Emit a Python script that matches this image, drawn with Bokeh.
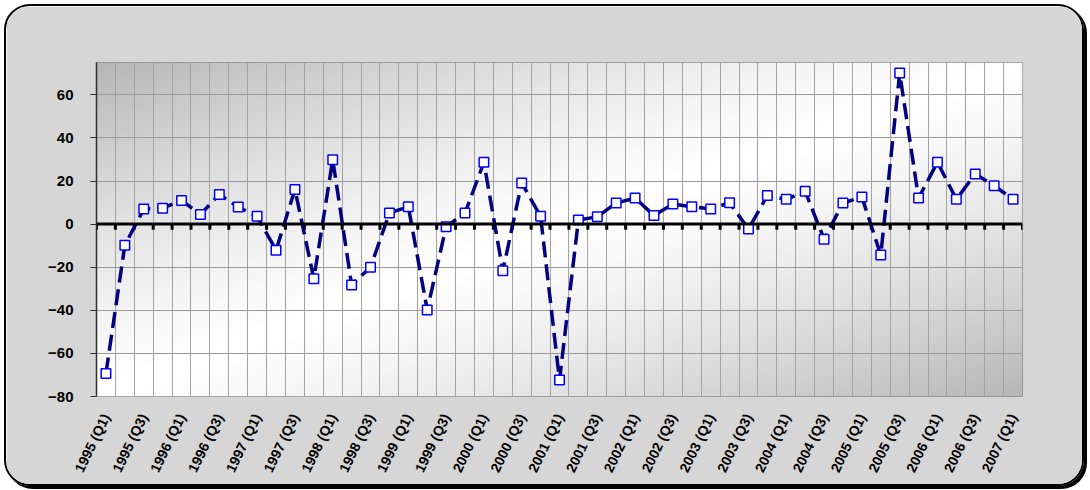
import numpy as np
from bokeh.plotting import figure
from bokeh.models import FixedTicker, Span, ColumnDataSource
from bokeh.embed import file_html
from bokeh.resources import INLINE

# ---- data ----
values = [-69.3, -9.8, 7.0, 7.4, 11.0, 4.5, 13.8, 7.9, 3.6, -12.1,
          16.1, -25.3, 29.9, -28.2, -20.0, 5.1, 8.1, -39.8, -1.2, 5.1,
          28.7, -21.7, 19.1, 3.6, -72.4, 1.9, 3.4, 9.8, 12.1, 4.0,
          9.3, 8.1, 7.0, 9.9, -2.3, 13.3, 11.5, 15.2, -7.0, 9.8,
          12.6, -14.3, 70.1, 12.1, 28.7, 11.5, 23.3, 17.8, 11.5]
tick_labels = ["1995 (Q1)", "1995 (Q3)", "1996 (Q1)", "1996 (Q3)", "1997 (Q1)",
               "1997 (Q3)", "1998 (Q1)", "1998 (Q3)", "1999 (Q1)", "1999 (Q3)",
               "2000 (Q1)", "2000 (Q3)", "2001 (Q1)", "2001 (Q3)", "2002 (Q1)",
               "2002 (Q3)", "2003 (Q1)", "2003 (Q3)", "2004 (Q1)", "2004 (Q3)",
               "2005 (Q1)", "2005 (Q3)", "2006 (Q1)", "2006 (Q3)", "2007 (Q1)"]
y_ticks = [-80, -60, -40, -20, 0, 20, 40, 60]

n = len(values)
xs = list(range(n))
src = ColumnDataSource(dict(x=xs, y=values))

Y0, Y1 = -80, 75

p = figure(width=1080, height=482, output_backend="svg", toolbar_location=None,
           x_range=(-0.5, n - 0.5), y_range=(Y0, Y1),
           min_border_left=90, min_border_right=64, min_border_top=56, min_border_bottom=92)
p.styles = {"border": "2px solid black", "border-radius": "26px", "overflow": "hidden",
            "box-shadow": "3px 3px 0 black", "margin": "4px 0 0 4px"}
p.border_fill_color = "#d6d6d6"
p.background_fill_color = "#ffffff"
p.outline_line_color = "#8a8a8a"

# plot area gradient (decorative)
H, W = 120, 240
u = np.linspace(0, 1, W)[None, :]
v = np.linspace(0, 1, H)[:, None]
d = np.clip(np.abs(u - v), 0, 1)
g = (255 - 72 * d ** 1.3).astype(np.uint32)
img = (255 << 24) | (g << 16) | (g << 8) | g
p.image_rgba(image=[img.astype(np.uint32)], x=-0.5, y=Y0, dw=n, dh=Y1 - Y0, level="image")

# grids
p.xgrid.ticker = FixedTicker(ticks=[i - 0.5 for i in range(n + 1)])
p.xgrid.grid_line_color = "#a3a3a3"
p.ygrid.ticker = FixedTicker(ticks=y_ticks)
p.ygrid.grid_line_color = "#9a9a9a"

# axes
p.xaxis.ticker = FixedTicker(ticks=list(range(0, n, 2)))
p.xaxis.major_label_overrides = {i: lab for i, lab in zip(range(0, n, 2), tick_labels)}
p.xaxis.major_label_orientation = 1.12
p.xaxis.axis_line_color = None
p.xaxis.major_tick_line_color = None
p.xaxis.minor_tick_line_color = None
p.xaxis.major_label_standoff = 12
p.xaxis.major_label_text_font = "Liberation Sans"
p.xaxis.major_label_text_font_style = "bold"
p.xaxis.major_label_text_font_size = "14px"
p.xaxis.major_label_text_color = "black"

p.yaxis.ticker = FixedTicker(ticks=y_ticks)
p.yaxis.axis_line_color = "#303030"
p.yaxis.axis_line_width = 1.5
p.yaxis.major_tick_out = 6
p.yaxis.major_tick_in = 0
p.yaxis.major_tick_line_color = "#303030"
p.yaxis.minor_tick_line_color = None
p.yaxis.major_label_standoff = 17
p.yaxis.major_label_text_font = "Liberation Sans"
p.yaxis.major_label_text_font_style = "bold"
p.yaxis.major_label_text_font_size = "15px"
p.yaxis.major_label_text_color = "black"

# zero line with category ticks
p.add_layout(Span(location=0, dimension="width", line_color="black", line_width=3))
bounds = [i - 0.5 for i in range(n + 1)]
p.segment(x0=bounds, y0=[0] * len(bounds), x1=bounds, y1=[-2.6] * len(bounds),
          line_color="black", line_width=3)

# series
p.line("x", "y", source=src, line_color="#000080", line_width=3.5, line_dash="16 7")
p.scatter("x", "y", source=src, marker="square", size=9.5, line_color="#0000ff",
          line_width=1.5, fill_color="white")

open("out.html", "w").write(file_html(p, INLINE))
